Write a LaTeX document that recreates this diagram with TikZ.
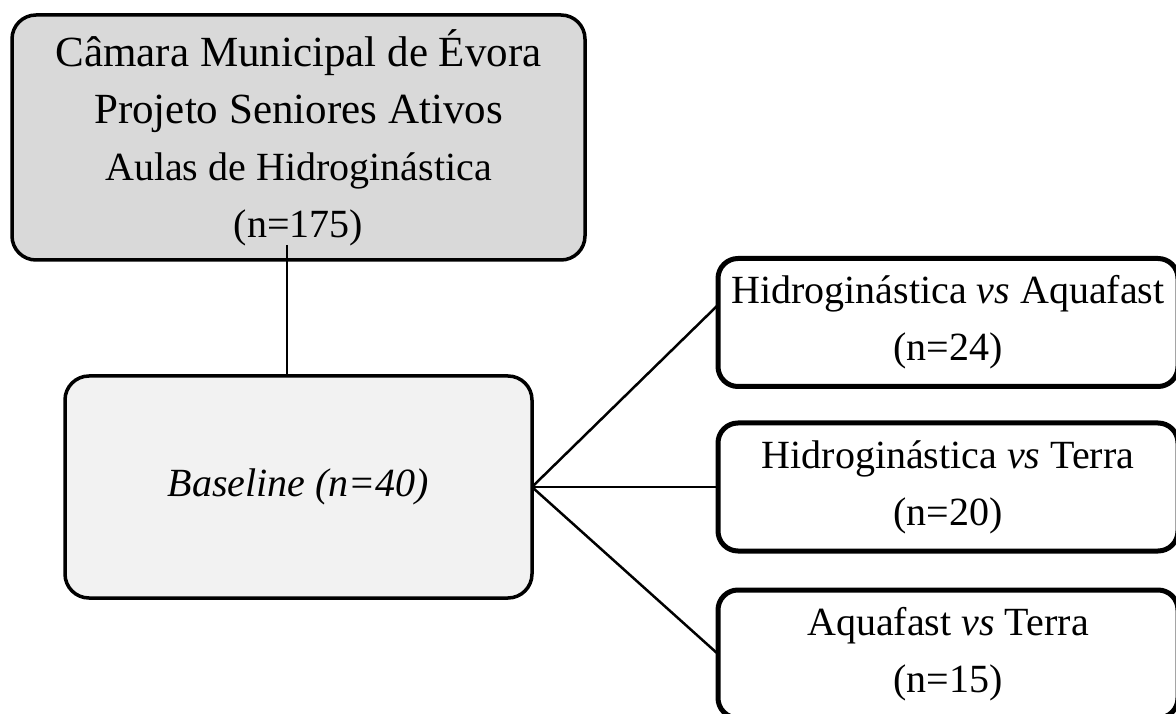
\documentclass[tikz,border=0pt]{standalone}
\usepackage{fontspec}
\setmainfont{Liberation Serif}
\begin{document}
\begin{tikzpicture}[x=1pt,y=1pt,
  every node/.style={inner sep=0pt,outer sep=0pt,align=center,
    font=\fontsize{40}{57}\selectfont},
  greybox/.style={draw=black,line width=3.5pt,rounded corners=24pt,fill=black!15},
  basebox/.style={draw=black,line width=3.5pt,rounded corners=24pt,fill=black!5},
  armbox/.style={draw=black,line width=5pt,rounded corners=20pt,fill=white,
    minimum width=460pt,minimum height=128pt},
  link/.style={draw=black,line width=2.5pt}]
\useasboundingbox (0,0) rectangle (1176,713);
\node[greybox,minimum width=573pt,minimum height=245pt] (top) at (298.5,575.5)
  {{\fontsize{43}{57}\selectfont Câmara Municipal de Évora}\\
   {\fontsize{43}{57}\selectfont Projeto Seniores Ativos}\\
   Aulas de Hidroginástica\\(n=175)};
\node[basebox,minimum width=467pt,minimum height=222pt] (base) at (298.5,226)
  {\itshape Baseline (n=40)};
\node[armbox] (b1) at (948,390.5) {Hidroginástica \textit{vs} Aquafast\\(n=24)};
\node[armbox] (b2) at (948,226) {Hidroginástica \textit{vs} Terra\\(n=20)};
\node[armbox] (b3) at (948,59) {Aquafast \textit{vs} Terra\\(n=15)};
\coordinate (tj) at (287,468);
\draw[link] (tj) -- (tj |- base.north);
\draw[link] (base.east) -- ([yshift=17.5pt]b1.west);
\draw[link] (base.east) -- (b2.west);
\draw[link] (base.east) -- (b3.west);
\end{tikzpicture}
\end{document}
